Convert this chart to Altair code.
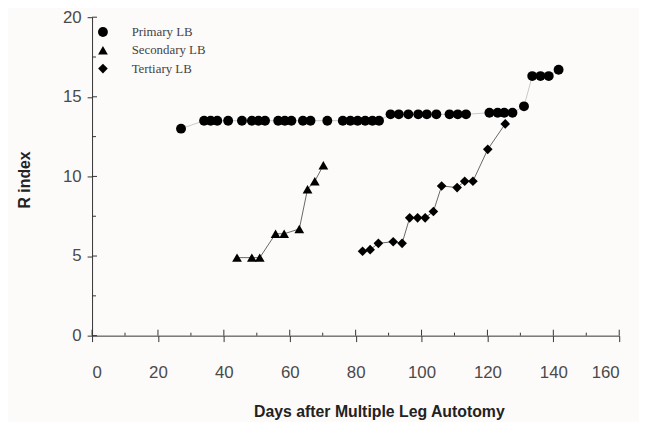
import altair as alt
import pandas as pd

# ---- data ----
primary_x = [27, 34, 36, 38, 41.3, 45.5, 48.5, 50.5, 52.5, 56.5, 58.5, 60.5, 64, 66.3,
             71.4, 76.1, 78.4, 80.6, 82.9, 85.1, 87.1,
             90.6, 93.1, 96, 99, 101.6, 104.5, 108.5, 111, 113.5,
             120.6, 123.1, 125.1, 127.6, 131.1, 133.6, 136.1, 138.6, 141.6]
primary_y = [13.0] + [13.5] * 20 + [13.9] * 9 + [14.0] * 4 + [14.4, 16.3, 16.3, 16.3, 16.7]

secondary_x = [44, 48.5, 50.9, 55.7, 58.3, 62.9, 65.4, 67.6, 70.2]
secondary_y = [4.9, 4.9, 4.9, 6.4, 6.4, 6.7, 9.2, 9.7, 10.7]

tertiary_x = [82.1, 84.4, 86.9, 91.4, 94.1, 96.4, 98.8, 101.1, 103.6, 106.1,
              110.8, 113.1, 115.6, 120.1, 125.4]
tertiary_y = [5.3, 5.4, 5.8, 5.9, 5.8, 7.4, 7.4, 7.4, 7.8, 9.4,
              9.3, 9.7, 9.7, 11.7, 13.3]

series_names = ["Primary LB", "Secondary LB", "Tertiary LB"]
series_shapes = ["circle", "triangle-up", "diamond"]
x_major = [0, 20, 40, 60, 80, 100, 120, 140, 160]
x_minor = [10, 30, 50, 70, 90, 110, 130, 150]
y_major = [0, 5, 10, 15, 20]
y_minor = [2.5, 7.5, 12.5, 17.5]

rows = []
for name, xs, ys in zip(series_names,
                        [primary_x, secondary_x, tertiary_x],
                        [primary_y, secondary_y, tertiary_y]):
    for i, (a, b) in enumerate(zip(xs, ys)):
        rows.append({"series": name, "kind": name, "day": a, "r": b, "order": i})
df = pd.DataFrame(rows)
legend_df = pd.DataFrame({"series": series_names, "kind": series_names})

xmaj = pd.DataFrame({"v": x_major})
xmin = pd.DataFrame({"v": x_minor})
ymaj = pd.DataFrame({"v": y_major})
ymin = pd.DataFrame({"v": y_minor})

W, H = 533, 322
FONT = "Liberation Sans"
xscale = alt.Scale(domain=[0, 160], nice=False, zero=False)
yscale = alt.Scale(domain=[0, 20], nice=False, zero=False)
shape_scale = alt.Scale(domain=series_names, range=series_shapes)
size_scale = alt.Scale(domain=series_names, range=[100, 95, 70])

x_axis = alt.Axis(values=x_major, tickSize=6, labelPadding=23, labelFontSize=17,
                  labelFont=FONT, labelColor="#4a4a4a", domainColor="#333",
                  tickColor="#333", grid=False, title="Days after Multiple Leg Autotomy",
                  titleFont=FONT, titleFontSize=16, titleFontWeight="bold",
                  titleColor="#222", titleX=290, titleY=82, titleAlign="center",
                  titleBaseline="alphabetic", titleAnchor="start")
y_axis = alt.Axis(values=y_major, tickSize=5, labelPadding=6, labelFontSize=17,
                  labelFont=FONT, labelColor="#4a4a4a", domainColor="#333",
                  tickColor="#333", grid=False, title="R index",
                  titleFont=FONT, titleFontSize=16, titleFontWeight="bold",
                  titleColor="#222", titleX=-60, titleY=164, titleAlign="center",
                  titleAngle=270, titleAnchor="start")

lines = alt.Chart(df).mark_line(strokeWidth=1).encode(
    x=alt.X("day:Q", scale=xscale, axis=x_axis),
    y=alt.Y("r:Q", scale=yscale, axis=y_axis),
    color=alt.Color("kind:N", scale=alt.Scale(domain=series_names,
                    range=["#c8c8c8", "#666666", "#666666"]), legend=None),
    order="order:Q",
)

points = alt.Chart(df).mark_point(filled=True, opacity=1).encode(
    x=alt.X("day:Q", scale=xscale),
    y=alt.Y("r:Q", scale=yscale),
    fill=alt.value("black"),
    shape=alt.Shape("series:N", scale=shape_scale, legend=None),
    size=alt.Size("kind:N", scale=size_scale, legend=None),
)

x_in_major = alt.Chart(xmaj).mark_rule(color="#333", strokeWidth=1).encode(
    x=alt.X("v:Q", scale=xscale), y=alt.value(H), y2=alt.value(H - 6))
x_in_minor = alt.Chart(xmin).mark_rule(color="#333", strokeWidth=1).encode(
    x=alt.X("v:Q", scale=xscale), y=alt.value(H), y2=alt.value(H - 3))
y_in_major = alt.Chart(ymaj).mark_rule(color="#333", strokeWidth=1).encode(
    y=alt.Y("v:Q", scale=yscale), x=alt.value(0), x2=alt.value(5))
y_in_minor = alt.Chart(ymin).mark_rule(color="#333", strokeWidth=1).encode(
    y=alt.Y("v:Q", scale=yscale), x=alt.value(0), x2=alt.value(4))

main = alt.layer(lines, x_in_major, x_in_minor, y_in_major, y_in_minor, points)

# legend drawn in the top-left corner of the plot
leg_y = alt.Y("series:N", scale=alt.Scale(type="point", domain=series_names,
                                          range=[15, 52], padding=0), axis=None)
leg_symbols = alt.Chart(legend_df).mark_point(filled=True, opacity=1).encode(
    x=alt.value(11),
    y=leg_y,
    fill=alt.value("black"),
    shape=alt.Shape("series:N", scale=shape_scale, legend=None),
    size=alt.Size("kind:N", scale=size_scale, legend=None),
)
leg_labels = alt.Chart(legend_df).mark_text(
    align="left", baseline="middle", font="Liberation Serif", fontSize=13,
    color="#444").encode(
    x=alt.value(40),
    y=leg_y,
    text="series:N",
)
legend = alt.layer(leg_symbols, leg_labels)

chart = alt.layer(main, legend).resolve_scale(y="independent").properties(
    width=W, height=H,
    autosize=alt.AutoSizeParams(type="none"),
    padding={"left": 85, "top": 7, "right": 20, "bottom": 85},
    background="#fdfbfa",
).configure_view(stroke=None)

chart.save("out.html", embed_options={"renderer": "svg", "actions": False})
